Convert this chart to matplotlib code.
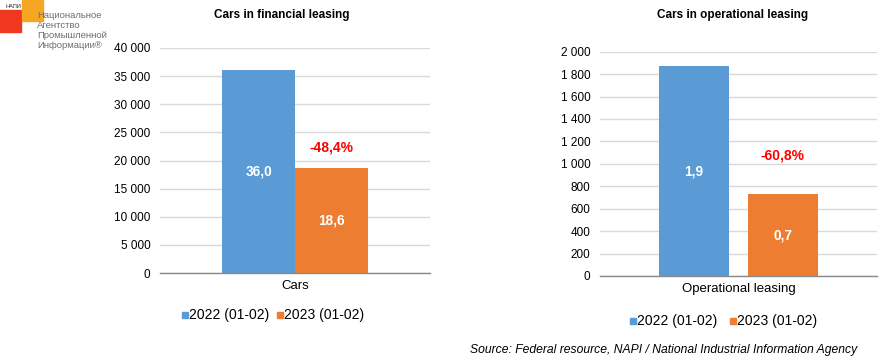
import matplotlib
matplotlib.use("Agg")
import matplotlib.pyplot as plt
from matplotlib.ticker import FuncFormatter, MultipleLocator
from matplotlib.patches import Rectangle
from matplotlib import font_manager

plt.rcParams['font.family'] = ['Liberation Sans', 'DejaVu Sans']

# ---- data ----
series = ["2022 (01-02)", "2023 (01-02)"]
colors = ["#5b9bd5", "#ed7d31"]

fin_category = "Cars"
fin_values = [36000, 18600]
fin_change = "-48,4%"
fin_title = "Cars in financial leasing"

op_category = "Operational leasing"
op_values = [1870, 730]
op_change = "-60,8%"
op_title = "Cars in operational leasing"

source = "Source: Federal resource, NAPI / National Industrial Information Agency"

W, H = 882, 359
fig = plt.figure(figsize=(W / 100, H / 100), dpi=100)

names = {f.name for f in font_manager.fontManager.ttflist}
narrow = ['Liberation Sans Narrow', 'Liberation Sans'] if 'Liberation Sans Narrow' in names else ['Liberation Sans']


def ax_px(x0, y_top, x1, y_bot):
    return fig.add_axes([x0 / W, 1 - y_bot / H, (x1 - x0) / W, (y_bot - y_top) / H])


def space_fmt(v, pos):
    return f"{int(round(v)):,}".replace(",", " ")


def draw(ax, values, ymax, step, width, offset, change, change_y, category):
    xs = [-offset, offset]
    ax.bar(xs, values, width=width, color=colors, zorder=3)
    ax.set_xlim(-0.5, 0.5)
    ax.set_ylim(0, ymax)
    ax.yaxis.set_major_locator(MultipleLocator(step))
    ax.yaxis.set_major_formatter(FuncFormatter(space_fmt))
    ax.grid(axis='y', color='#d9d9d9', linewidth=1, zorder=0)
    for s in ['top', 'right', 'left']:
        ax.spines[s].set_visible(False)
    ax.spines['bottom'].set_color('#898989')
    ax.spines['bottom'].set_linewidth(1)
    ax.spines['bottom'].set_zorder(4)
    ax.tick_params(axis='y', length=0, pad=7, labelsize=8.5, colors='#000000')
    ax.set_xticks([0])
    ax.set_xticklabels([category], fontsize=9.5)
    ax.tick_params(axis='x', length=0, pad=5)
    for x, v in zip(xs, values):
        ax.text(x, v / 2, f"{v / 1000:.1f}".replace(".", ","), ha='center', va='center',
                color='white', fontsize=9.8, fontweight='bold', zorder=5)
    ax.text(xs[1], change_y, change, ha='center', va='center', color='#ff0000',
            fontsize=10, fontweight='bold', zorder=5)


ax1 = ax_px(160, 48, 430, 273)
draw(ax1, fin_values, 40000, 5000, 0.27, 0.135, fin_change, 22300, fin_category)

ax2 = ax_px(600, 51.7, 877, 276)
draw(ax2, op_values, 2000, 200, 0.252, 0.16, op_change, 1070, op_category)

fig.text(282 / W, 1 - 15 / H, fin_title, ha='center', va='center', fontsize=8.5, fontweight='bold')
fig.text(733 / W, 1 - 15 / H, op_title, ha='center', va='center', fontsize=8.5, fontweight='bold')


def legend(x_marks, y):
    for xm, lab, c in zip(x_marks, series, colors):
        fig.patches.append(Rectangle(((xm - 3) / W, 1 - (y + 3) / H), 6 / W, 6 / H,
                                     transform=fig.transFigure, color=c, figure=fig))
        fig.text((xm + 4) / W, 1 - y / H, lab, ha='left', va='center', fontsize=10)


legend([185, 280], 315)
legend([633, 733], 321)

fig.text(857 / W, 1 - 350 / H, source, ha='right', va='center', fontsize=8.75, style='italic')

# logo
fig.patches.append(Rectangle((0, 1 - 32 / H), 21 / W, 22 / H, transform=fig.transFigure,
                             color='#f0381e', figure=fig))
fig.patches.append(Rectangle((22 / W, 1 - 21 / H), 21 / W, 21 / H, transform=fig.transFigure,
                             color='#f5a623', figure=fig))
fig.text(6 / W, 1 - 6 / H, "НАПИ", fontsize=4, ha='left', va='center', color='#222222')
logo_lines = ["Национальное", "Агентство", "Промышленной", "Информации®"]
for i, line in enumerate(logo_lines):
    fig.text(37 / W, 1 - (15 + 10 * i) / H, line, fontsize=6.8, ha='left', va='center',
             color='#6d6d6d', family=narrow)

fig.savefig("out.png", dpi=100)
